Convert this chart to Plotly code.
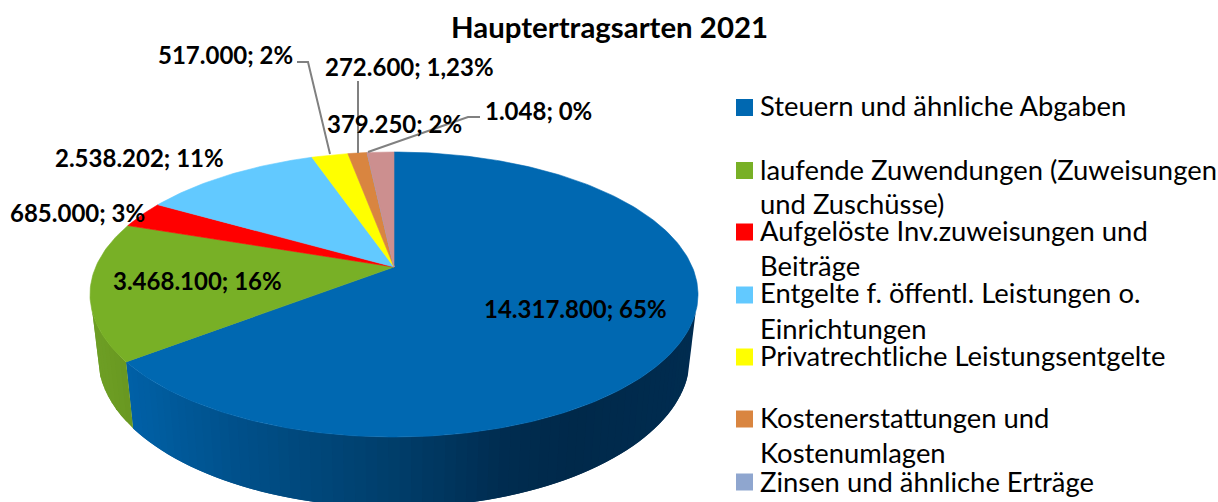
import math
import plotly.graph_objects as go

# ---- data ----
categories = ["Steuern und ähnliche Abgaben",
              "laufende Zuwendungen (Zuweisungen\nund Zuschüsse)",
              "Aufgelöste Inv.zuweisungen und\nBeiträge",
              "Entgelte f. öffentl. Leistungen o.\nEinrichtungen",
              "Privatrechtliche Leistungsentgelte",
              "Kostenerstattungen und\nKostenumlagen",
              "Zinsen und ähnliche Erträge",
              ""]
values = [14317800, 3468100, 685000, 2538202, 517000, 272600, 1048, 379250]
percents = ["65%", "16%", "3%", "11%", "2%", "1,23%", "0%", "2%"]
colors = ["#0068B1", "#78B026", "#FF0000", "#62C9FF", "#FFFF00", "#D98540", "#8FA6CF", "#CC8F8F"]
title = "Hauptertragsarten 2021"

# ---- label and legend placement (pixels) ----
label_pos = [(575, 308), (197.5, 280.5), (77.5, 212), (139, 157), (225, 54), (409.5, 66), (538.5, 110), (394.5, 123)]
legend_y = [107.5, 170.5, 232, 295, 357, 419, 482]
legend_text_y = [[105.5], [169.5, 203.5], [230.5, 265.5], [292.5, 328.5], [355.5], [417.5, 452.5], [481]]
leaders = [([297, 308, 330], [62, 62, 154]),
           ([358, 358], [81, 153]),
           ([480, 468, 368], [117, 117, 152])]

# ---- pie projection ----
CX, CY, b = 394.0, 267.0, 0.193
A, B = 298.3, 137.2
def rim(t):
    d = 1 + b * math.cos(t)
    return CX + A * math.sin(t) / d, CY - B * math.cos(t) / d
def lower(x, y):
    return CX + (x - CX) * 296 / 304, 357.5 + (y - 294.5) * 150 / 142.5

def lerp_hex(stops, x):
    for (x0, c0), (x1, c1) in zip(stops, stops[1:]):
        if x <= x1:
            f = max(0, (x - x0) / (x1 - x0))
            a = [int(c0[i:i + 2], 16) for i in (1, 3, 5)]
            z = [int(c1[i:i + 2], 16) for i in (1, 3, 5)]
            return "rgb(%d,%d,%d)" % tuple(round(p + (q - p) * f) for p, q in zip(a, z))
    return stops[-1][1]

blue_stops = [(127, "#0060A6"), (230, "#00508A"), (394, "#003D69"), (500, "#002C50"), (570, "#00294A"), (700, "#002C50")]
green_stops = [(90, "#6E9F25"), (135, "#67951F")]

total = sum(values)
angles = [0.0]
for v in values:
    angles.append(angles[-1] + v / total * 2 * math.pi)

fig = go.Figure()

def add_poly(xs, ys, color, lw=0.6):
    fig.add_trace(go.Scatter(x=xs, y=ys, mode="lines", fill="toself", fillcolor=color,
                             line=dict(color=color, width=lw), hoverinfo="skip", showlegend=False))

def add_wall(t0, t1, stops, n):
    # each strip overlaps the next one so no seams show between them
    for i in range(n):
        ta = t0 + (t1 - t0) * i / n
        tb = t0 + (t1 - t0) * min(i + 2, n) / n
        xa, ya = rim(ta)
        xb, yb = rim(tb)
        la, lb = lower(xa, ya), lower(xb, yb)
        add_poly([xa, xb, lb[0], la[0], xa], [ya, yb, lb[1], la[1], ya], lerp_hex(stops, (xa + xb) / 2), lw=0)

add_wall(math.radians(108), angles[1], blue_stops, 70)
add_wall(angles[1], math.radians(252), green_stops, 8)

for i, c in enumerate(colors):
    n = max(2, int((angles[i + 1] - angles[i]) * 60))
    pts = [rim(angles[i] + (angles[i + 1] - angles[i]) * k / n) for k in range(n + 1)]
    add_poly([CX] + [p[0] for p in pts] + [CX], [CY] + [p[1] for p in pts] + [CY], c)

for xs, ys in leaders:
    fig.add_trace(go.Scatter(x=xs, y=ys, mode="lines", line=dict(color="#808080", width=2),
                             hoverinfo="skip", showlegend=False))

fig.add_trace(go.Scatter(x=[744.5] * len(legend_y), y=legend_y, mode="markers",
                         marker=dict(symbol="square", size=17, color=colors[:len(legend_y)], line=dict(width=0)),
                         hoverinfo="skip", showlegend=False))

ann = []
for v, p, (x, y) in zip(values, percents, label_pos):
    ann.append(dict(x=x, y=y, xref="x", yref="y", showarrow=False, xanchor="center", yanchor="middle",
                    text=f"<b>{v:,}".replace(",", ".") + f"; {p}</b>",
                    font=dict(family="Lato", size=24, color="#000000")))
for cat, ys in zip(categories, legend_text_y):
    for line, y in zip(cat.split("\n"), ys):
        ann.append(dict(x=758, y=y, xref="x", yref="y", showarrow=False, xanchor="left", yanchor="middle",
                        text=line, font=dict(family="Lato", size=27.4, color="#000000")))

fig.update_layout(
    width=1218, height=502, margin=dict(l=0, r=0, t=0, b=0),
    paper_bgcolor="white", plot_bgcolor="white",
    xaxis=dict(range=[0, 1218], visible=False, fixedrange=True),
    yaxis=dict(range=[502, 0], visible=False, fixedrange=True),
    title=dict(text=f"<b>{title}</b>", x=609.5 / 1218, y=1 - 28 / 502, xanchor="center", yanchor="middle",
               font=dict(family="Lato", size=29.4, color="#000000")),
    annotations=ann, showlegend=False,
)
fig.write_html("out.html", config=dict(displayModeBar=False),
               post_script="document.body.style.margin='0';document.documentElement.style.overflow='hidden';")
